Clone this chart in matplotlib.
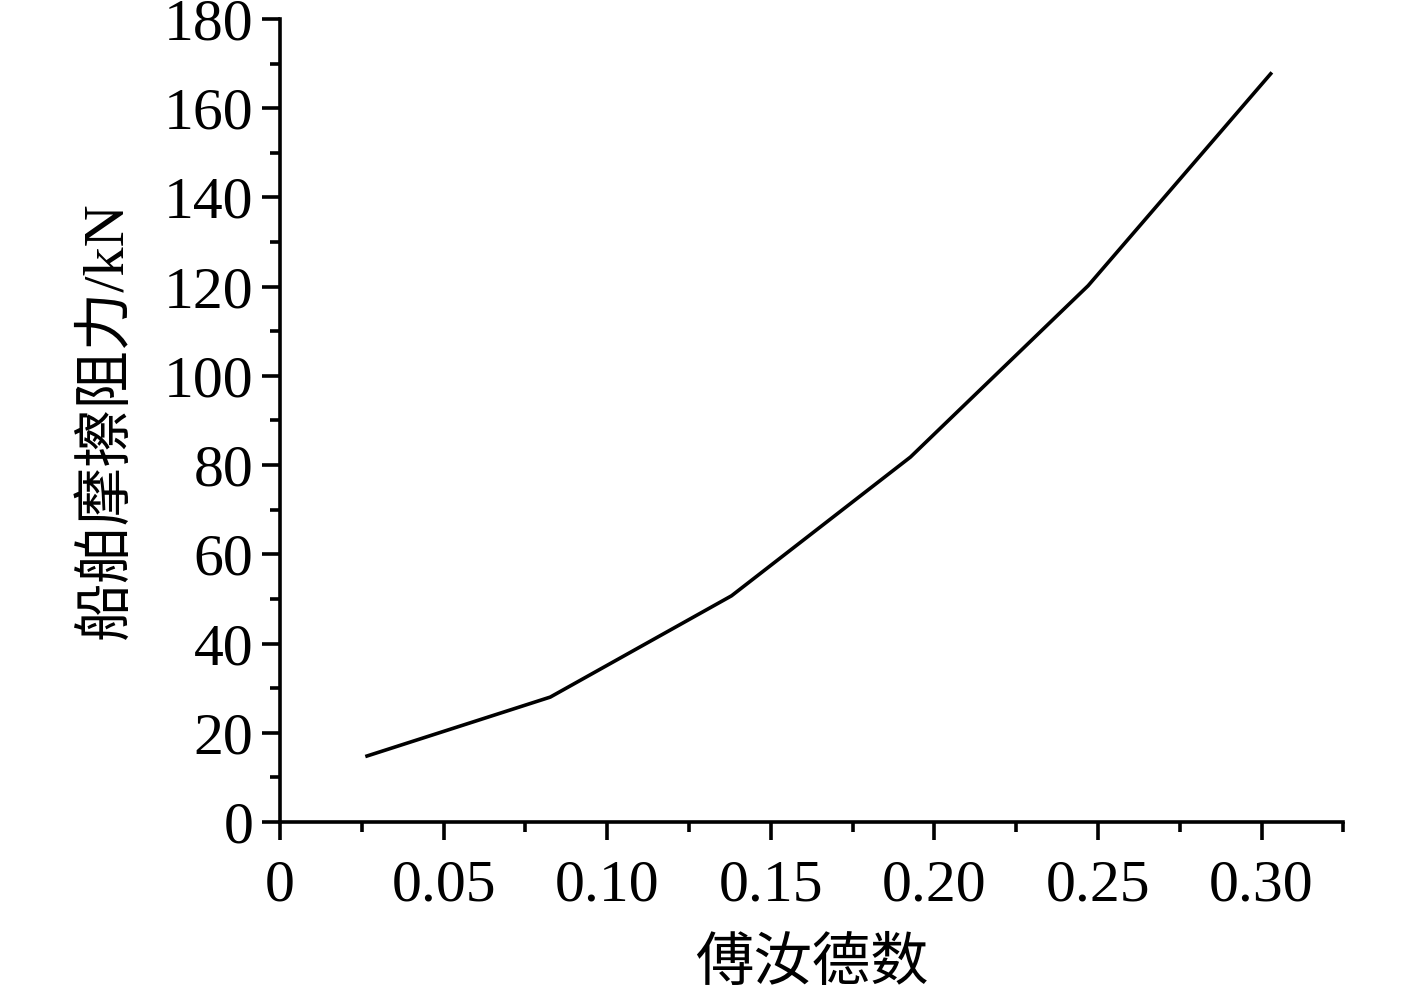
import matplotlib
matplotlib.use("Agg")
import matplotlib.pyplot as plt
from matplotlib.ticker import MultipleLocator, FuncFormatter

froude = [0.0266, 0.0826, 0.138, 0.1927, 0.247, 0.3028]
resistance = [14.8, 28.0, 50.7, 81.8, 120.2, 167.7]

xlabel = "傅汝德数"
ylabel = "船舶摩擦阻力/kN"

fam = ["Liberation Serif", "Noto Sans CJK SC"]
plt.rcParams["font.family"] = fam

fig = plt.figure(figsize=(14.17, 9.94), dpi=100)
ax = fig.add_axes([0.1976, 0.173, 0.7504, 0.808])
ax.plot(froude, resistance, color="black", lw=2.6)

ax.set_xlim(0, 0.325)
ax.set_ylim(0, 180)
ax.xaxis.set_major_locator(MultipleLocator(0.05))
ax.xaxis.set_minor_locator(MultipleLocator(0.025))
ax.yaxis.set_major_locator(MultipleLocator(20))
ax.yaxis.set_minor_locator(MultipleLocator(10))
ax.xaxis.set_major_formatter(FuncFormatter(lambda v, p: "0" if abs(v) < 1e-9 else f"{v:.2f}"))
ax.yaxis.set_major_formatter(FuncFormatter(lambda v, p: f"{v:.0f}"))

for s in ["top", "right"]:
    ax.spines[s].set_visible(False)
for s in ["left", "bottom"]:
    ax.spines[s].set_linewidth(2.6)

ax.tick_params(which="major", direction="out", length=13, width=2.6, labelsize=43, pad=6)
ax.tick_params(which="minor", direction="out", length=7, width=2.6)
ax.tick_params(axis="x", pad=14)

ax.set_xlabel(xlabel, fontsize=42, family=["Noto Sans CJK SC"], labelpad=14)
ax.set_ylabel(ylabel, fontsize=42, family=fam, labelpad=22)

fig.savefig("out.png", dpi=100)
